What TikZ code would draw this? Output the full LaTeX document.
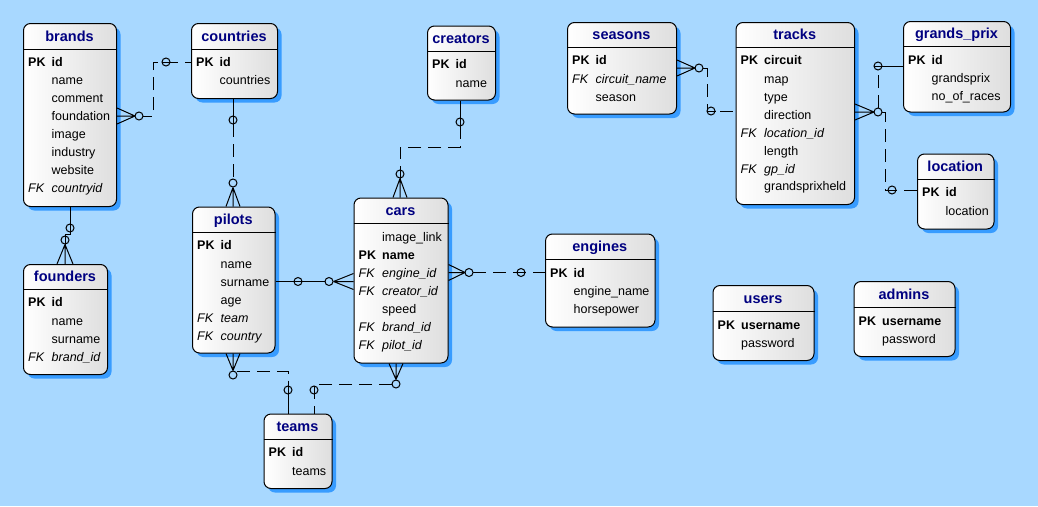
\documentclass[tikz,border=0pt]{standalone}
\usepackage{fontspec}
\setmainfont{Liberation Sans}
\usetikzlibrary{shadows}

\definecolor{canvas}{RGB}{168,216,255}
\definecolor{boxshadow}{RGB}{56,156,255}
\definecolor{boxgrey}{RGB}{222,222,222}
\definecolor{titleblue}{RGB}{0,0,128}

\tikzset{
  tablebox/.style={draw=black, line width=1pt, rounded corners=7pt,
    anchor=north west, inner sep=0pt, left color=white, right color=boxgrey,
    general shadow={fill=boxshadow, shadow xshift=4pt, shadow yshift=-4pt}},
  border/.style={line width=1pt},
  tabletitle/.style={anchor=base, inner sep=0pt, yshift=-5pt,
    font=\fontsize{14.5}{17}\selectfont\bfseries, text=titleblue},
  rowtext/.style={anchor=base west, inner sep=0pt, yshift=-4.5pt,
    font=\fontsize{12.5}{15}\selectfont},
  pk/.style={font=\fontsize{12.5}{15}\selectfont\bfseries},
  fk/.style={font=\fontsize{12.5}{15}\selectfont\itshape},
  plain/.style={},
  rel/.style={line width=1pt, dash pattern=on 13pt off 7pt},
  link/.style={line width=1pt},
  crow/.style={line width=1pt},
  circ/.style={circle, draw, line width=1pt, minimum size=8pt, inner sep=0pt},
}

% table: name, left, top, right, bottom, header line y, title
\newcommand{\ertable}[7]{%
  \node[tablebox, minimum width={#4pt-#2pt}, minimum height={#5pt-#3pt}] (#1) at (#2,#3) {};
  \draw[border] (#1.west |- 0,#6) -- (#1.east |- 0,#6);
  \node[tabletitle] (#1-title) at ({(#2+#4)/2},{(#3+#6)/2}) {#7};
}
% row with key: name, table left, row centre y, key, field, style
\newcommand{\keyrow}[6]{%
  \node[rowtext,#6] (#1-key) at (#2+5,#3) {#4};
  \node[rowtext,#6] (#1) at (#2+28.5,#3) {#5};
}
% row without key: name, table left, row centre y, field
\newcommand{\plainrow}[4]{%
  \node[rowtext] (#1) at (#2+28.5,#3) {#4};
}

\begin{document}
\begin{tikzpicture}[x=1pt,y=-1pt]
\fill[canvas] (0,0) rectangle (1038,506);
\useasboundingbox (0,0) rectangle (1038,506);

% ---------- tables ----------
\ertable{brands}{23}{23}{116}{206}{49}{brands}
\keyrow{brands-id}{23}{62}{PK}{id}{pk}
\plainrow{brands-name}{23}{80}{name}
\plainrow{brands-comment}{23}{98}{comment}
\plainrow{brands-foundation}{23}{116}{foundation}
\plainrow{brands-image}{23}{134}{image}
\plainrow{brands-industry}{23}{152}{industry}
\plainrow{brands-website}{23}{170}{website}
\keyrow{brands-countryid}{23}{188}{FK}{countryid}{fk}

\ertable{countries}{191}{23}{277}{98}{49}{countries}
\keyrow{countries-id}{191}{62}{PK}{id}{pk}
\plainrow{countries-countries}{191}{80}{countries}

\ertable{creators}{427}{25.5}{495}{99.5}{51.5}{creators}
\keyrow{creators-id}{427}{64}{PK}{id}{pk}
\plainrow{creators-name}{427}{82.5}{name}

\ertable{seasons}{567}{22}{676}{113.5}{47}{seasons}
\keyrow{seasons-id}{567}{60}{PK}{id}{pk}
\keyrow{seasons-circuit}{567}{78.5}{FK}{circuit\_name}{fk}
\plainrow{seasons-season}{567}{96.5}{season}

\ertable{tracks}{735.5}{22}{854}{204}{47}{tracks}
\keyrow{tracks-circuit}{735.5}{60}{PK}{circuit}{pk}
\plainrow{tracks-map}{735.5}{78.5}{map}
\plainrow{tracks-type}{735.5}{96.5}{type}
\plainrow{tracks-direction}{735.5}{114.5}{direction}
\keyrow{tracks-location}{735.5}{132.5}{FK}{location\_id}{fk}
\plainrow{tracks-length}{735.5}{150.5}{length}
\keyrow{tracks-gp}{735.5}{168.5}{FK}{gp\_id}{fk}
\plainrow{tracks-held}{735.5}{186}{grandsprixheld}

\ertable{grandsprix}{903}{21}{1010}{111.5}{46}{grands\_prix}
\keyrow{grandsprix-id}{903}{59.5}{PK}{id}{pk}
\plainrow{grandsprix-name}{903}{77.5}{grandsprix}
\plainrow{grandsprix-races}{903}{95.5}{no\_of\_races}

\ertable{location}{917}{153.5}{993.5}{228.5}{179.5}{location}
\keyrow{location-id}{917}{192}{PK}{id}{pk}
\plainrow{location-location}{917}{210.5}{location}

\ertable{pilots}{192}{206.5}{274.5}{352.5}{232.5}{pilots}
\keyrow{pilots-id}{192}{245}{PK}{id}{pk}
\plainrow{pilots-name}{192}{263.5}{name}
\plainrow{pilots-surname}{192}{281.5}{surname}
\plainrow{pilots-age}{192}{299.5}{age}
\keyrow{pilots-team}{192}{317.5}{FK}{team}{fk}
\keyrow{pilots-country}{192}{335.5}{FK}{country}{fk}

\ertable{founders}{23}{264}{107}{374}{289.5}{founders}
\keyrow{founders-id}{23}{302}{PK}{id}{pk}
\plainrow{founders-name}{23}{320.5}{name}
\plainrow{founders-surname}{23}{338.5}{surname}
\keyrow{founders-brand}{23}{356.5}{FK}{brand\_id}{fk}

\ertable{teams}{263.5}{413.5}{331.5}{488}{439.5}{teams}
\keyrow{teams-id}{263.5}{452}{PK}{id}{pk}
\plainrow{teams-teams}{263.5}{470.5}{teams}

\ertable{cars}{353.5}{197.5}{447.5}{362.5}{223.5}{cars}
\plainrow{cars-image}{353.5}{236.5}{image\_link}
\keyrow{cars-name}{353.5}{254.5}{PK}{name}{pk}
\keyrow{cars-engine}{353.5}{272.5}{FK}{engine\_id}{fk}
\keyrow{cars-creator}{353.5}{290.5}{FK}{creator\_id}{fk}
\plainrow{cars-speed}{353.5}{308.5}{speed}
\keyrow{cars-brand}{353.5}{326.5}{FK}{brand\_id}{fk}
\keyrow{cars-pilot}{353.5}{344.5}{FK}{pilot\_id}{fk}

\ertable{engines}{545}{233.5}{654.5}{326.5}{259.5}{engines}
\keyrow{engines-id}{545}{272.5}{PK}{id}{pk}
\plainrow{engines-name}{545}{290.5}{engine\_name}
\plainrow{engines-hp}{545}{308.5}{horsepower}

\ertable{users}{712.5}{285}{813.5}{360}{311.5}{users}
\keyrow{users-username}{712.5}{324.5}{PK}{username}{pk}
\plainrow{users-password}{712.5}{342.5}{password}

\ertable{admins}{853.5}{281}{954.5}{356}{307.5}{admins}
\keyrow{admins-username}{853.5}{320.5}{PK}{username}{pk}
\plainrow{admins-password}{853.5}{338.5}{password}

% ---------- relationships ----------
% countries (one) -- brands (many)
\draw[rel] (139,116) -- (153,116) -- (153,62) -- (countries.west |- 0,62);
\draw[crow] (brands.east |- 0,108) -- (135,116) -- (brands.east |- 0,124)
            (135,116) -- (brands.east |- 0,116);
\node[circ, fill=canvas] (r1m) at (139,116) {};
\node[circ, fill=canvas] (r1o) at (166,62) {};
\draw[link] (r1o.west) -- (r1o.east);

% countries (one) -- pilots (many)
\draw[link] (countries.south -| 233,0) -- (233,124);
\draw[rel] (233,124) -- (233,183);
\node[circ, fill=canvas] (r2o) at (233,120) {};
\draw[link] (r2o.north) -- (r2o.south);
\node[circ, fill=canvas] (r2m) at (233,183) {};
\draw[crow] (r2m.south) -- (pilots.north -| 226,0)
            (r2m.south) -- (pilots.north -| 233,0)
            (r2m.south) -- (pilots.north -| 240,0);

% brands (one) -- founders (many)
\draw[link] (brands.south -| 70,0) -- (70,234) -- (65,234) -- (65,240);
\node[circ, fill=canvas] (r3o) at (70,228) {};
\draw[link] (r3o.north) -- (r3o.south);
\node[circ, fill=canvas] (r3m) at (65,240) {};
\draw[link] (r3m.north) -- (r3m.south);
\draw[crow] (r3m.south) -- (founders.north -| 57,0)
            (r3m.south) -- (founders.north -| 65,0)
            (r3m.south) -- (founders.north -| 73,0);

% creators (one) -- cars (many)
\draw[link] (creators.south -| 460,0) -- (460,126);
\draw[rel] (460,126) -- (460,147) -- (400,147) -- (400,174);
\node[circ, fill=canvas] (r4o) at (460,122) {};
\draw[link] (r4o.north) -- (r4o.south);
\node[circ, fill=canvas] (r4m) at (400,174) {};
\draw[link] (r4m.north) -- (r4m.south);
\draw[crow] (r4m.south) -- (cars.north -| 393,0)
            (r4m.south) -- (cars.north -| 400,0)
            (r4m.south) -- (cars.north -| 407,0);

% pilots (one) -- cars (many)
\draw[link] (pilots.east |- 0,281.5) -- (329,281.5);
\node[circ, fill=canvas] (r5o) at (298,281.5) {};
\draw[link] (r5o.west) -- (r5o.east);
\node[circ, fill=canvas] (r5m) at (329,281.5) {};
\draw[crow] (r5m.east) -- (cars.west |- 0,273.5)
            (r5m.east) -- (cars.west |- 0,281.5)
            (r5m.east) -- (cars.west |- 0,289.5);

% engines (one) -- cars (many)
\draw[rel] (473,272.5) -- (engines.west |- 0,272.5);
\draw[crow] (cars.east |- 0,264.5) -- (465,272.5) -- (cars.east |- 0,280.5)
            (465,272.5) -- (cars.east |- 0,272.5);
\node[circ, fill=canvas] (r6m) at (469,272.5) {};
\node[circ, fill=canvas] (r6o) at (521,272.5) {};
\draw[link] (r6o.west) -- (r6o.east);

% teams (one) -- pilots (many)
\draw[rel] (237,371.5) -- (288,371.5) -- (288,390);
\draw[link] (288,390) -- (teams.north -| 288,0);
\node[circ, fill=canvas] (r7m) at (233,375) {};
\draw[crow] (r7m.north) -- (pilots.south -| 226,0)
            (r7m.north) -- (pilots.south -| 233,0)
            (r7m.north) -- (pilots.south -| 240,0);
\node[circ, fill=canvas] (r7o) at (288,390) {};
\draw[link] (r7o.north) -- (r7o.south);

% teams (one) -- cars (many)
\draw[rel] (392,384) -- (314,384) -- (314,390) -- (teams.north -| 314,0);
\node[circ, fill=canvas] (r8m) at (396,384) {};
\draw[crow] (r8m.north) -- (cars.south -| 389,0)
            (r8m.north) -- (cars.south -| 396,0)
            (r8m.north) -- (cars.south -| 403,0);
\node[circ, fill=canvas] (r8o) at (314,390) {};
\draw[link] (r8o.north) -- (r8o.south);

% tracks (one) -- seasons (many)
\draw[rel] (703,68) -- (707,68) -- (707,111) -- (tracks.west |- 0,111);
\draw[crow] (seasons.east |- 0,60) -- (695,68) -- (seasons.east |- 0,76)
            (695,68) -- (seasons.east |- 0,68);
\node[circ, fill=canvas] (r9m) at (699,68) {};
\node[circ, fill=canvas] (r9o) at (711,111) {};
\draw[link] (r9o.west) -- (r9o.east);

% grands_prix (one) -- tracks (many)
\draw[rel] (878,108) -- (878,66);
\draw[link] (878,66) -- (grandsprix.west |- 0,66);
\draw[crow] (tracks.east |- 0,104) -- (874,112) -- (tracks.east |- 0,120)
            (874,112) -- (tracks.east |- 0,112);
\node[circ, fill=canvas] (r10o) at (878,66) {};
\draw[link] (r10o.west) -- (r10o.east);

% location (one) -- tracks (many)
\draw[rel] (882,112) -- (885,112) -- (885,190) -- (location.west |- 0,190);
\node[circ, fill=canvas] (r10m) at (878,112) {};
\node[circ, fill=canvas] (r11o) at (892,190) {};
\draw[link] (r11o.west) -- (r11o.east);
\end{tikzpicture}
\end{document}
